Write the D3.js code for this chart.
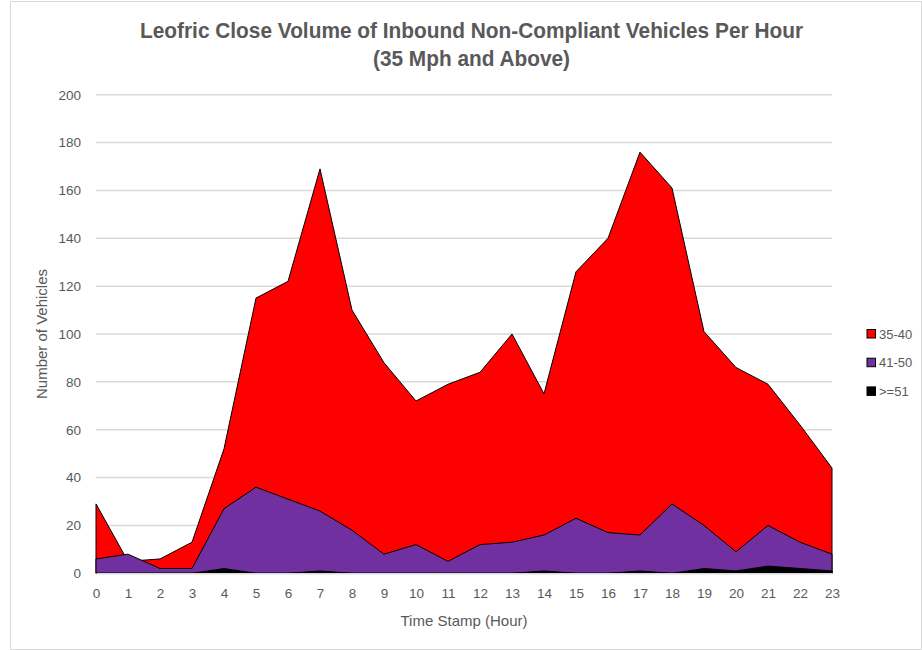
<!DOCTYPE html>
<html>
<head>
<meta charset="utf-8">
<script src="https://cdn.jsdelivr.net/npm/d3@7"></script>
<style>
  body { margin: 0; background: #fff; }
  svg { display: block; }
</style>
</head>
<body>
<svg id="chart" width="922" height="650"></svg>
<script>
// hours on the x axis
const hours = d3.range(0, 24);

// vehicles per hour
const speed35to40 = [29, 5, 6, 13, 52, 115, 122, 169, 110, 88, 72, 79, 84, 100, 75, 126, 140, 176, 161, 101, 86, 79, 62, 44];
const speed41to50 = [6, 8, 2, 2, 27, 36, 31, 26, 18, 8, 12, 5, 12, 13, 16, 23, 17, 16, 29, 20, 9, 20, 13, 8];
const speed51plus = [0, 0, 0, 0, 2, 0, 0, 1, 0, 0, 0, 0, 0, 0, 1, 0, 0, 1, 0, 2, 1, 3, 2, 1];

const seriesNames = ["35-40", "41-50", ">=51"];
const seriesColors = ["#ff0000", "#7030a0", "#000000"];
const yTicks = [0, 20, 40, 60, 80, 100, 120, 140, 160, 180, 200];

const series = [speed35to40, speed41to50, speed51plus].map((vals, i) => ({
    name: seriesNames[i],
    color: seriesColors[i],
    values: vals.map((v, j) => ({ hour: hours[j], value: v }))
}));

const svg = d3.select("#chart");
const margin = { left: 96, right: 90, top: 94.7, bottom: 76.7 };
const width = 922, height = 650;

const x = d3.scaleLinear().domain([0, 23]).range([margin.left, width - margin.right]);
const y = d3.scaleLinear().domain([0, 200]).range([height - margin.bottom, margin.top]);

const textColor = "#595959";
const font = "'Liberation Sans', Arial, sans-serif";

// chart border
svg.append("rect")
    .attr("x", 10.5).attr("y", 1.5)
    .attr("width", 911).attr("height", 648)
    .attr("fill", "#fff")
    .attr("stroke", "#d9d9d9")
    .attr("stroke-width", 1);

// title, squeezed to the width of the condensed original
const titleLines = [
    { text: "Leofric Close Volume of Inbound Non-Compliant Vehicles Per Hour", y: 38, len: 663 },
    { text: "(35 Mph and Above)", y: 66, len: 197 }
];
svg.append("g")
    .selectAll("text")
    .data(titleLines)
    .join("text")
    .attr("x", 471.5)
    .attr("y", d => d.y)
    .attr("text-anchor", "middle")
    .attr("textLength", d => d.len)
    .attr("lengthAdjust", "spacingAndGlyphs")
    .attr("fill", textColor)
    .style("font-family", font)
    .style("font-weight", "bold")
    .style("font-size", "22px")
    .text(d => d.text);

// gridlines
svg.append("g")
    .selectAll("line")
    .data(yTicks)
    .join("line")
    .attr("x1", x(0)).attr("x2", x(23))
    .attr("y1", d => y(d)).attr("y2", d => y(d))
    .attr("stroke", "#d9d9d9")
    .attr("stroke-width", 1.5);

// y axis labels
const yAxis = svg.append("g")
    .attr("transform", `translate(${margin.left},0)`)
    .call(d3.axisLeft(y).tickValues(yTicks).tickSize(0).tickPadding(15));
yAxis.select(".domain").remove();
yAxis.selectAll("text")
    .attr("fill", textColor)
    .style("font-family", font)
    .style("font-size", "13.5px");

// areas, drawn back to front
const area = d3.area()
    .x(d => x(d.hour))
    .y0(y(0))
    .y1(d => y(d.value));

svg.append("g")
    .selectAll("path")
    .data(series)
    .join("path")
    .attr("d", d => area(d.values))
    .attr("fill", d => d.color)
    .attr("stroke", "#000")
    .attr("stroke-width", 1)
    .attr("stroke-linejoin", "round");

// x axis
const xAxis = svg.append("g")
    .attr("transform", `translate(0,${y(0)})`)
    .call(d3.axisBottom(x).tickValues(hours).tickFormat(d3.format("d")).tickSize(0).tickPadding(15));
xAxis.select(".domain").attr("stroke", "#d9d9d9").attr("stroke-width", 1.5);
xAxis.selectAll("text")
    .attr("fill", textColor)
    .style("font-family", font)
    .style("font-size", "13.5px");

// axis titles
svg.append("text")
    .attr("transform", `translate(47,${(y(0) + y(200)) / 2}) rotate(-90)`)
    .attr("text-anchor", "middle")
    .attr("fill", textColor)
    .style("font-family", font)
    .style("font-size", "15px")
    .text("Number of Vehicles");

svg.append("text")
    .attr("x", (x(0) + x(23)) / 2)
    .attr("y", 626)
    .attr("text-anchor", "middle")
    .attr("fill", textColor)
    .style("font-family", font)
    .style("font-size", "15px")
    .text("Time Stamp (Hour)");

// legend
const legend = svg.append("g")
    .selectAll("g")
    .data(series)
    .join("g")
    .attr("transform", (d, i) => `translate(867,${334 + i * 28.7})`);
legend.append("rect")
    .attr("x", 0).attr("y", -4.5)
    .attr("width", 8.5).attr("height", 8.5)
    .attr("fill", d => d.color)
    .attr("stroke", "#000")
    .attr("stroke-width", 1);
legend.append("text")
    .attr("x", 12).attr("y", 4.5)
    .attr("fill", textColor)
    .style("font-family", font)
    .style("font-size", "13px")
    .text(d => d.name);
</script>
</body>
</html>
